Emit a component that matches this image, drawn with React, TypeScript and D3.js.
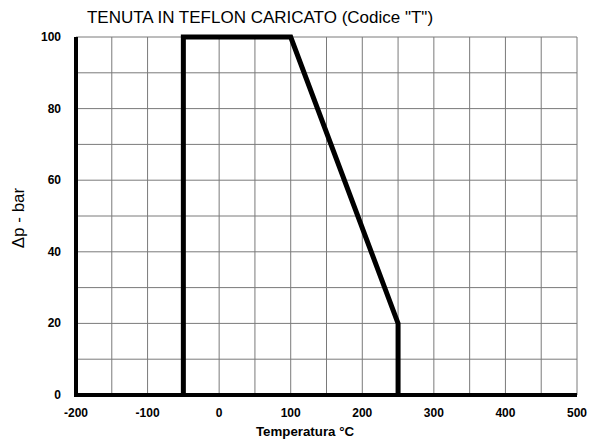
import React from 'react';
import * as d3 from 'd3';

const tempPoints = [-50, -50, 100, 250, 250];
const pressurePoints = [0, 100, 100, 20, 0];
const xTicks = [-200, -100, 0, 100, 200, 300, 400, 500];
const yTicks = [0, 20, 40, 60, 80, 100];
const xGrid = d3.range(-200, 501, 50);
const yGrid = d3.range(0, 101, 10);

const App: React.FC = () => {
  const width = 595;
  const height = 439;
  const margin = { top: 37, right: 18, bottom: 44, left: 76 };
  const innerW = width - margin.left - margin.right;
  const innerH = height - margin.top - margin.bottom;

  const x = d3.scaleLinear().domain([-200, 500]).range([0, innerW]);
  const y = d3.scaleLinear().domain([0, 100]).range([innerH, 0]);

  const line = d3
    .line<number>()
    .x((d) => x(d))
    .y((_, i) => y(pressurePoints[i]));

  const font = '"Liberation Sans", Arial, sans-serif';

  return (
    <svg
      width={width}
      height={height}
      style={{ position: 'absolute', left: 0, top: 0, background: '#fff' }}
      fontFamily={font}
    >
      <text x={260} y={23} textAnchor="middle" fontSize={17} fill="#000">
        TENUTA IN TEFLON CARICATO (Codice "T")
      </text>
      <g transform={`translate(${margin.left},${margin.top})`}>
        {xGrid.map((v) => (
          <line key={'gx' + v} x1={x(v)} x2={x(v)} y1={0} y2={innerH} stroke="#7a7a7a" strokeWidth={1} />
        ))}
        {yGrid.map((v) => (
          <line key={'gy' + v} x1={0} x2={innerW} y1={y(v)} y2={y(v)} stroke="#7a7a7a" strokeWidth={1} />
        ))}
        <line x1={0} x2={0} y1={0} y2={innerH + 2} stroke="#000" strokeWidth={4} />
        <line x1={-2} x2={innerW} y1={innerH} y2={innerH} stroke="#000" strokeWidth={4} />
        <path
          d={line(tempPoints) || ''}
          fill="none"
          stroke="#000"
          strokeWidth={5}
          strokeLinejoin="miter"
        />
        {xTicks.map((v) => (
          <text key={'tx' + v} x={x(v)} y={innerH + 22} textAnchor="middle" fontSize={12} fontWeight="bold">
            {v}
          </text>
        ))}
        {yTicks.map((v) => (
          <text key={'ty' + v} x={-15} y={y(v) + 4} textAnchor="end" fontSize={12} fontWeight="bold">
            {v}
          </text>
        ))}
        <text x={229} y={innerH + 41} textAnchor="middle" fontSize={13.3} fontWeight="bold">
          Temperatura °C
        </text>
        <text
          transform={`translate(${-52},${innerH / 2 + 2}) rotate(-90)`}
          textAnchor="middle"
          fontSize={17}
        >
          Δp - bar
        </text>
      </g>
    </svg>
  );
};

export default App;
